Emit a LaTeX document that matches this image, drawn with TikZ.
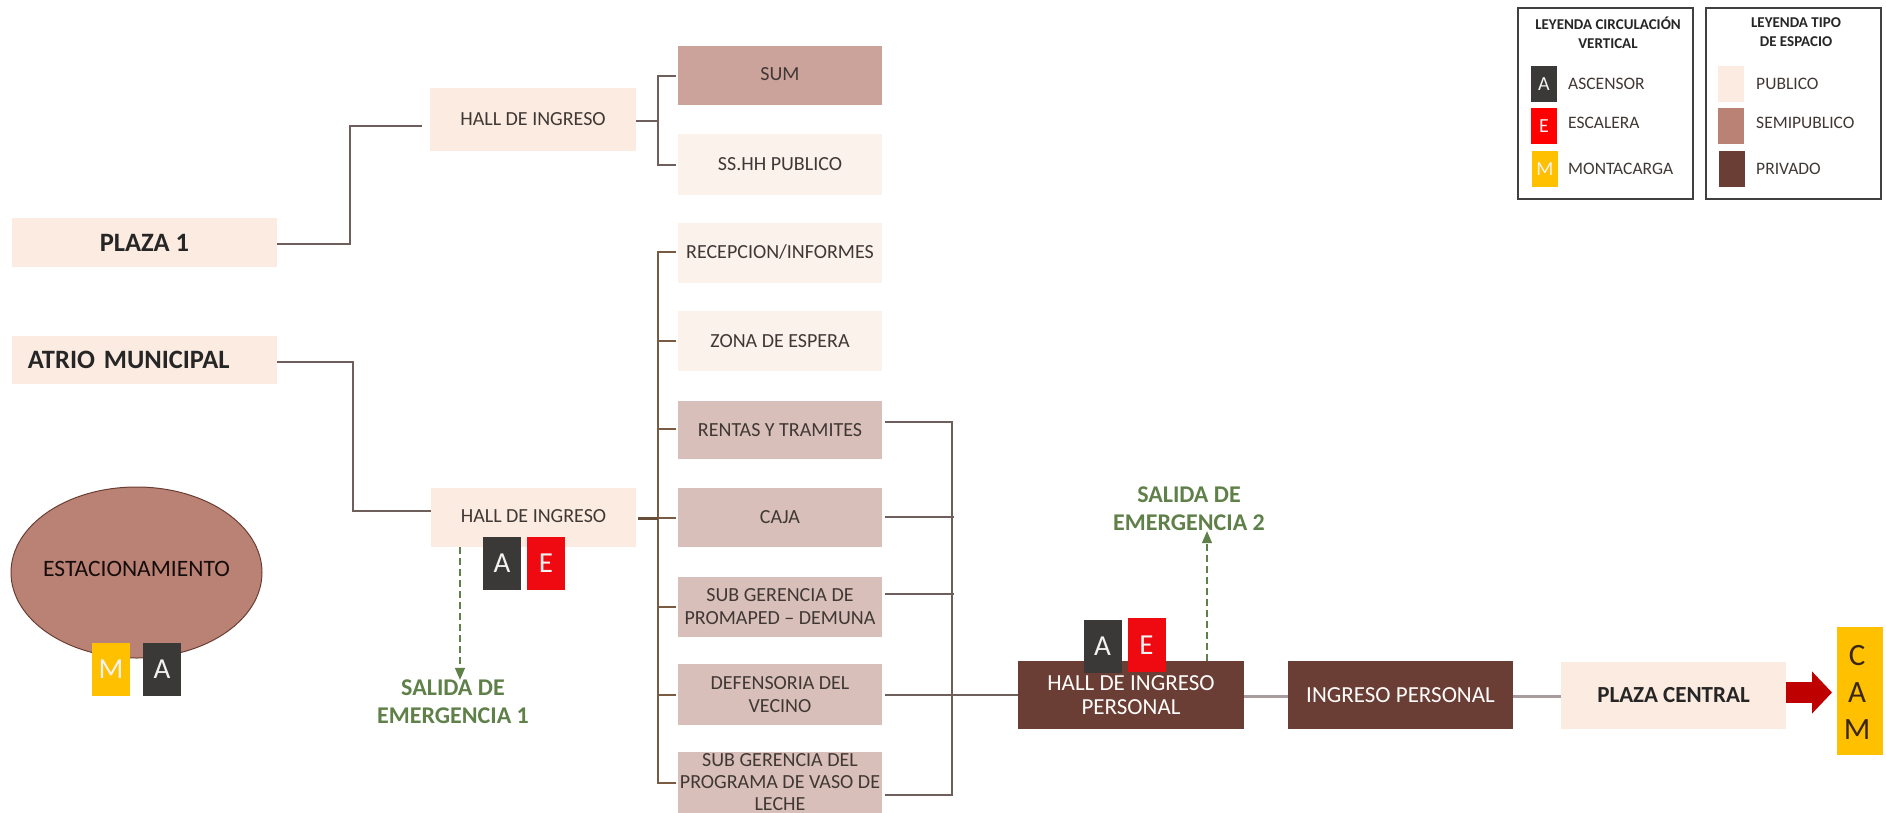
\documentclass[tikz,border=0pt]{standalone}
\usepackage{fontspec}
\setmainfont{Carlito}
\usetikzlibrary{arrows.meta,shapes.geometric}
\definecolor{pub}{HTML}{FBEBE0}
\definecolor{publ}{HTML}{FCF2EC}
\definecolor{semid}{HTML}{CBA39B}
\definecolor{semi}{HTML}{D9BFB9}
\definecolor{semil}{HTML}{BA8274}
\definecolor{priv}{HTML}{6B3E35}
\definecolor{gold}{HTML}{FFC000}
\definecolor{redv}{HTML}{EE0A10}
\definecolor{darkv}{HTML}{3B3838}
\definecolor{verde}{HTML}{5F8049}
\definecolor{txt}{HTML}{403835}
\definecolor{lin}{HTML}{6E5F5C}
\definecolor{spine}{HTML}{7A5B42}
\definecolor{thick}{HTML}{A99C9C}
\tikzset{
  bx/.style={inner sep=0pt,outer sep=0pt,align=center,text=txt,font=\fontsize{20}{23}\selectfont},
  b1/.style={bx,fill=pub},
  b2/.style={bx,fill=publ},
  b3/.style={bx,fill=semi},
  big/.style={b1,font=\fontsize{26.5}{30}\selectfont\bfseries,text=black!85},
  vert/.style={inner sep=0pt,outer sep=0pt,text=white!90!gray,font=\fontsize{29}{32}\selectfont,minimum width=38pt,minimum height=53pt},
  vA/.style={vert,fill=darkv},
  vE/.style={vert,fill=redv},
  vM/.style={vert,fill=gold},
  salida/.style={inner sep=0pt,align=center,text=verde,font=\fontsize{24}{28}\selectfont\bfseries},
  conn/.style={draw=lin,line width=1.6pt},
  sp/.style={draw=spine,line width=1.8pt},
  thk/.style={draw=thick,line width=3pt},
  emerg/.style={draw=verde,line width=1.2pt,dash pattern=on 7pt off 4pt,-{Triangle[length=12pt,width=10pt,fill=verde]}},
  leg/.style={draw=black!75,line width=1.1pt,fill=white,inner sep=0pt,minimum width=175pt,minimum height=191pt},
  legT/.style={inner sep=0pt,align=center,text=black!85,font=\fontsize{15}{18.5}\selectfont\bfseries},
  legL/.style={inner sep=0pt,anchor=west,text=txt,font=\fontsize{17.5}{18}\selectfont},
  sw/.style={inner sep=0pt,outer sep=0pt,minimum width=26pt,minimum height=36pt,text=white!90!gray,font=\fontsize{20}{22}\selectfont},
  priv box/.style={bx,fill=priv,text=white!90!pub,font=\fontsize{23}{24}\selectfont,minimum height=68pt}
}
\begin{document}
\begin{tikzpicture}[x=1pt,y=-1pt]
\useasboundingbox (0,0) rectangle (1886,813);
% left boxes
\node[big,minimum width=265pt,minimum height=49pt] (plaza) at (144.5,242.5) {PLAZA 1};
\node[big,minimum width=265pt,minimum height=48pt,text width=265pt,align=left] (atrio) at (144.5,360) {\hspace{16pt}ATRIO MUNICIPAL};
\node[b1,minimum width=206pt,minimum height=63pt] (hallA) at (533,119.5) {HALL DE INGRESO};
\node[b1,minimum width=205pt,minimum height=59pt] (hallB) at (533.5,517.5) {\raisebox{2pt}{HALL DE INGRESO}};
% column
\node[bx,fill=semid,minimum width=204pt,minimum height=59pt] (sum) at (780,75.5) {\raisebox{2pt}{SUM}};
\node[b2,minimum width=204pt,minimum height=61pt] (ss) at (780,164.5) {SS.HH PUBLICO};
\node[b2,minimum width=204pt,minimum height=60pt] (rec) at (780,253) {\raisebox{2pt}{RECEPCION/INFORMES}};
\node[b2,minimum width=204pt,minimum height=60pt] (zona) at (780,341) {ZONA DE ESPERA};
\node[b3,minimum width=204pt,minimum height=58pt] (rentas) at (780,430) {RENTAS Y TRAMITES};
\node[b3,minimum width=204pt,minimum height=59pt] (caja) at (780,517.5) {CAJA};
\node[b3,minimum width=204pt,minimum height=60pt] (promaped) at (780,607) {SUB GERENCIA DE\\PROMAPED – DEMUNA};
\node[b3,minimum width=204pt,minimum height=61pt] (defen) at (780,694.5) {DEFENSORIA DEL\\VECINO};
\node[b3,minimum width=204pt,minimum height=61pt,font=\fontsize{20}{22}\selectfont] (vaso) at (780,782.5) {SUB GERENCIA DEL\\PROGRAMA DE VASO DE\\LECHE};
% parking
\node[ellipse,draw=priv,line width=1pt,fill=semil,minimum width=251pt,minimum height=171pt,inner sep=0pt,text=black!80!priv,font=\fontsize{23.5}{25}\selectfont] (estac) at (136.5,572.5) {\makebox[0pt]{\raisebox{7pt}{ESTACIONAMIENTO}}};
\node[vM] (mA) at (111,669) {M};
\node[vA] (aA) at (162,669) {A};
% vertical on hall B
\node[vA] (aB) at (502,563.5) {A};
\node[vE] (eB) at (546,563.5) {E};
% personal
\node[priv box,minimum width=226pt] (hallP) at (1131,695) {HALL DE INGRESO\\PERSONAL};
\node[priv box,minimum width=225pt] (ingP) at (1400.5,695) {INGRESO PERSONAL};
\node[bx,fill=pub,text=black!85,font=\fontsize{23}{25}\selectfont\bfseries,minimum width=225pt,minimum height=67pt] (plazaC) at (1673.5,695.5) {PLAZA CENTRAL};
\node[vA] (aP) at (1102.5,646) {A};
\node[vE,minimum height=54pt] (eP) at (1146.5,645) {E};
\node[inner sep=0pt,outer sep=0pt,fill=gold,minimum width=46pt,minimum height=128pt] (cam) at (1860,691) {};
\node[inner sep=0pt,text=black!70!brown,align=center,font=\fontsize{31}{37}\selectfont] (camt) at (1857,692) {C\\A\\M};
% salidas
\node[salida] (sal1) at (453,702) {SALIDA DE\\EMERGENCIA 1};
\node[salida] (sal2) at (1189,509) {SALIDA DE\\EMERGENCIA 2};
% connectors
\coordinate (pj) at (350,244);
\coordinate (pe) at (422,126);
\draw[conn] (plaza.east |- pj) -- (pj) |- (pe);
\coordinate (aj) at (353,362);
\draw[conn] (atrio.east |- aj) -- (aj) |- (hallB.west |- 0,511);
\coordinate (sa) at (658,121);
\draw[conn] (hallA.east |- sa) -- (sa);
\coordinate (sa1) at (658,76);
\coordinate (sa2) at (658,165);
\draw[conn] ([xshift=-2pt]sum.west |- sa1) -- (sa1) -- (sa2) -- ([xshift=-2pt]ss.west |- sa2);
% spine
\coordinate (s0) at (658,252);
\coordinate (s1) at (658,783);
\coordinate (sb) at (658,518);
\draw[sp] ([xshift=-2pt]rec.west |- s0) -- (s0) -- (s1) -- ([xshift=-2pt]vaso.west |- s1);
\foreach \n/\y in {zona/341,rentas/429,caja/518,promaped/607,defen/695}
  \draw[sp] ([xshift=-2pt]\n.west |- 0,\y) -- (658,\y);
\draw[draw=spine!85!black,line width=3pt] ([xshift=2pt]hallB.east |- sb) -- (sb);
% right bus
\coordinate (r0) at (952,422);
\coordinate (r1) at (952,795);
\draw[conn] ([xshift=3pt]rentas.east |- r0) -- (r0) -- (r1) -- ([xshift=3pt]vaso.east |- r1);
\draw[conn] ([xshift=3pt]caja.east |- 0,517) -- (954,517);
\draw[conn] ([xshift=3pt]promaped.east |- 0,594) -- (954,594);
\draw[conn] ([xshift=3pt]defen.east |- 0,695) -- (hallP.west |- 0,695);
\draw[thk] (hallP.east |- 0,696) -- (ingP.west |- 0,696);
\draw[thk] (ingP.east |- 0,696) -- (plazaC.west |- 0,696);
% arrow to CAM
\coordinate (fl) at (1786,692.5);
\draw[draw=red!75!black,line width=21pt,-{Triangle[length=20pt,width=41pt,fill=red!75!black]},shorten >=5pt] (plazaC.east |- fl) -- (cam.west |- fl);
% emergency
\coordinate (d1) at (460,547);
\draw[emerg] (d1) -- (d1 |- sal1.north);
\coordinate (d2) at (1207,661);
\draw[emerg] (hallP.north -| d2) -- (d2 |- sal2.south);
% legend
\node[leg] (lg1) at (1605.5,103.5) {};
\node[leg] (lg2) at (1793.5,103.5) {};
\node[legT] (lt1) at (1608,33) {LEYENDA CIRCULACIÓN\\VERTICAL};
\node[legT] (lt2) at (1796,32) {LEYENDA TIPO\\DE ESPACIO};
\node[sw,fill=darkv] (s1a) at (1544,84) {A};
\node[sw,fill=red] (s1e) at (1544,126) {E};
\node[sw,fill=gold] (s1m) at (1545,169) {M};
\node[sw,fill=pub] (s2a) at (1731,84) {};
\node[sw,fill=semil] (s2b) at (1731,126) {};
\node[sw,fill=priv] (s2c) at (1732,169) {};
\node[legL] (l1) at (1568,84) {ASCENSOR};
\node[legL] (l2) at (1568,123) {ESCALERA};
\node[legL] (l3) at (1568,169) {MONTACARGA};
\node[legL] (l4) at (1756,84) {PUBLICO};
\node[legL] (l5) at (1756,123) {SEMIPUBLICO};
\node[legL] (l6) at (1756,169) {PRIVADO};
\end{tikzpicture}
\end{document}
